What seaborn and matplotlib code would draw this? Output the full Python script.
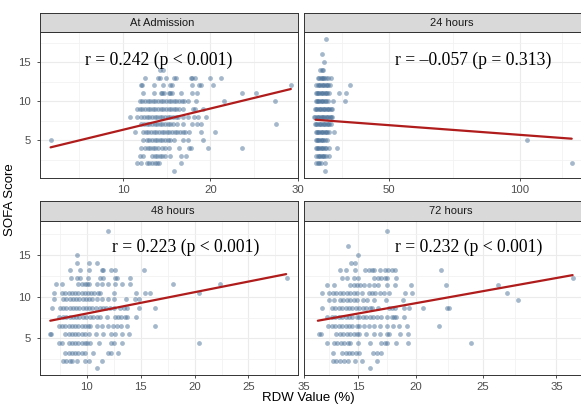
import matplotlib
matplotlib.use("Agg")
import matplotlib.pyplot as plt
import seaborn as sns
import pandas as pd

# ---------------- data ----------------
panel_titles = ["At Admission", "24 hours", "48 hours", "72 hours"]
annotations = ["r = 0.242 (p < 0.001)", "r = \u20130.057 (p = 0.313)",
               "r = 0.223 (p < 0.001)", "r = 0.232 (p < 0.001)"]

# SOFA score -> RDW values in that row
adm_rows = {
    14: [14.2, 14.6],
    13: [12.5, 14.0, 14.2, 14.9, 15.8, 16.0, 17.8, 17.9, 18.2, 19.9, 21.2],
    12: [12.0, 12.2, 13.5, 14.6, 15.4, 15.6, 17.9, 18.7, 18.9, 20.3, 29.2],
    11: [12.3, 13.5, 14.3, 14.5, 14.7, 15.2, 15.4, 15.6, 16.6, 17.9, 18.5, 23.6, 25.2],
    10: [11.9, 12.2, 12.5, 12.8, 13.1, 13.4, 13.7, 14.0, 14.3, 14.6, 14.9, 15.2, 15.5,
         15.8, 16.1, 16.4, 16.7, 17.0, 17.4, 18.3, 21.6, 27.4],
    9: [11.6, 11.9, 12.2, 12.5, 12.8, 13.1, 13.4, 13.7, 14.0, 14.3, 14.6, 14.9, 15.2,
        15.5, 15.8, 16.1, 16.4, 16.8, 18.0, 18.2, 19.1],
    8: [10.8, 11.6, 12.1, 12.4, 12.7, 13.0, 13.3, 13.6, 13.9, 14.2, 14.5, 14.8, 15.1,
        15.4, 15.7, 16.0, 16.3, 16.8, 17.4, 18.1, 18.6, 19.5],
    7: [12.1, 12.4, 12.7, 13.0, 13.3, 13.6, 13.9, 14.2, 14.5, 14.8, 15.1, 15.4, 15.7,
        16.2, 16.8, 17.9, 18.5, 18.9, 27.5],
    6: [11.4, 12.3, 12.6, 12.9, 13.2, 13.5, 13.8, 14.1, 14.4, 14.7, 15.0, 15.3, 15.6,
        15.9, 16.2, 16.5, 16.8, 17.1, 17.6, 18.9, 20.5],
    5: [1.7, 12.3, 12.7, 13.0, 13.3, 13.6, 13.9, 14.2, 14.5, 14.8, 15.1, 15.4, 15.8,
        16.8, 17.4, 19.1],
    4: [12.1, 12.5, 12.8, 13.1, 13.4, 13.7, 14.0, 14.4, 14.8, 15.2, 16.4, 17.6, 17.8,
        19.7, 23.6],
    3: [11.9, 12.3, 13.3, 13.6, 13.9, 14.2, 14.5, 14.8, 15.4, 16.6, 17.2],
    2: [11.6, 12.1, 12.7, 13.0, 13.3, 13.6, 13.9, 14.1, 16.6],
    1: [15.8],
}

h24_rows = {
    18: [26.0],
    16: [24.6],
    15: [25.2],
    14: [23.9, 24.4, 24.9],
    13: [23.0, 23.5, 24.0, 24.5, 25.0, 25.5, 26.0, 26.8, 28.1],
    12: [22.4, 22.9, 23.4, 23.9, 24.4, 24.9, 25.4, 25.9, 26.4, 26.8, 27.7, 35.1],
    11: [22.1, 22.6, 23.1, 23.6, 24.1, 24.6, 25.1, 25.6, 26.1, 26.6, 27.2, 31.0, 33.6],
    10: [22.1, 22.6, 23.1, 23.6, 24.1, 24.6, 25.1, 25.6, 26.1, 26.8, 28.8, 33.5],
    9: [21.8, 22.3, 22.8, 23.3, 23.8, 24.3, 24.8, 25.3, 25.8, 26.3, 26.8, 27.3, 27.8, 28.5],
    8: [21.5, 22.0, 22.5, 23.0, 23.5, 24.0, 24.5, 25.0, 25.5, 26.0, 26.5, 27.0, 27.5, 28.0, 28.5],
    7: [21.8, 22.3, 22.8, 23.3, 23.8, 24.3, 24.8, 25.3, 25.8, 26.3, 26.8, 27.3, 28.1],
    6: [22.1, 22.6, 23.1, 23.6, 24.1, 24.6, 25.1, 25.6, 26.1, 26.6, 27.4, 29.1],
    5: [22.1, 22.6, 23.1, 23.6, 24.1, 24.6, 25.1, 25.6, 26.5, 102.5],
    4: [22.1, 22.6, 23.1, 23.6, 24.1, 24.6, 25.1, 25.6, 26.2, 27.2, 30.4],
    3: [22.4, 22.9, 23.4, 23.9, 24.4, 24.9, 25.4, 26.2, 27.2],
    2: [22.4, 22.9, 23.4, 24.3, 25.6, 119.7],
    1: [25.6],
}

h48_rows = {
    17.9: [12.0],
    15.0: [9.1],
    14.1: [9.1, 10.2, 10.9],
    13.2: [8.4, 9.4, 10.2, 11.4, 11.5, 12.2, 12.6, 15.3],
    12.3: [8.5, 9.1, 9.4, 10.1, 11.2, 11.5, 12.6, 12.8, 14.0, 28.6],
    11.5: [7.1, 7.7, 9.2, 9.5, 9.8, 10.0, 10.2, 10.9, 11.4, 12.0, 12.6, 13.3, 14.0, 18.0, 22.4],
    10.5: [6.9, 7.7, 8.0, 8.3, 8.6, 8.9, 9.2, 9.5, 9.8, 10.1, 10.4, 10.7, 11.0, 11.2,
           12.5, 14.6, 15.4, 15.9, 20.4],
    9.7: [6.9, 7.8, 8.1, 8.4, 8.7, 9.0, 9.3, 9.6, 9.9, 10.2, 10.5, 10.9, 11.4, 12.0,
          12.5, 13.6, 14.5, 14.8],
    8.6: [6.8, 7.5, 7.8, 8.1, 8.4, 8.7, 9.0, 9.3, 9.6, 9.9, 10.2, 10.5, 10.8, 11.2,
          11.5, 11.8, 12.1, 12.5, 13.1, 13.4, 13.7, 14.8, 16.3],
    7.6: [7.4, 7.8, 8.1, 8.4, 8.7, 9.0, 9.3, 9.6, 9.9, 10.3, 10.6, 10.9, 11.2, 11.9,
          12.6, 12.9, 13.2, 13.5, 13.7, 14.6],
    6.5: [7.4, 7.7, 8.0, 8.3, 8.6, 8.9, 9.2, 9.5, 9.8, 10.1, 10.3, 10.9, 11.4, 12.0,
          12.4, 12.8, 13.2, 13.7, 16.3],
    5.5: [6.6, 6.7, 8.0, 8.3, 8.6, 8.9, 9.2, 9.5, 9.8, 10.2, 10.8, 11.5, 12.2, 12.6,
          13.3, 13.9],
    4.4: [7.4, 7.7, 8.3, 8.6, 8.9, 9.2, 9.5, 9.8, 10.0, 10.3, 11.1, 12.2, 12.5, 13.3, 20.4],
    3.3: [8.0, 8.3, 8.6, 8.9, 9.2, 9.5, 9.8, 10.6, 12.0, 12.2, 12.9],
    2.3: [7.8, 8.1, 8.4, 8.6, 9.1, 9.8, 10.2, 11.4],
    1.4: [10.9],
}

h72_rows = {
    17.9: [17.5],
    16.1: [14.1],
    15.0: [15.0],
    14.1: [14.4, 14.7],
    13.2: [13.4, 13.9, 14.7, 15.6, 15.9, 16.2, 16.4, 16.9, 17.3, 17.6, 17.9, 18.2, 22.2],
    12.3: [13.6, 14.0, 14.6, 15.0, 16.4, 16.7, 17.0, 17.3, 17.5, 18.3, 33.6],
    11.4: [12.3, 12.9, 14.3, 14.6, 14.9, 15.2, 15.5, 15.9, 16.4, 16.7, 17.5, 18.2,
           19.6, 22.6, 27.1],
    10.4: [11.9, 12.5, 12.8, 13.1, 13.4, 13.7, 14.0, 14.3, 14.6, 14.9, 15.3, 15.9,
           16.2, 16.5, 16.9, 17.2, 17.7, 19.1, 19.7, 27.9],
    9.6: [12.5, 12.9, 13.4, 13.7, 14.0, 14.3, 14.6, 14.9, 15.4, 15.8, 16.4, 17.4, 18.9, 28.9],
    8.6: [11.9, 12.7, 13.0, 13.3, 13.6, 13.9, 14.2, 14.5, 14.8, 15.1, 15.4, 15.7, 16.0,
          16.2, 16.7, 17.7, 17.9, 18.2, 19.0, 19.4, 20.6, 22.7, 22.9],
    7.6: [12.3, 12.7, 13.0, 13.3, 13.6, 13.9, 14.2, 14.5, 14.9, 15.1, 15.4, 15.7, 16.0,
          16.3, 16.6, 17.0, 17.5, 17.9, 18.1, 18.3, 19.0],
    6.5: [12.4, 12.7, 13.0, 13.3, 13.6, 13.9, 14.2, 14.5, 14.9, 15.1, 15.5, 15.9, 16.4,
          16.9, 17.5, 18.0, 18.5, 19.2, 22.0],
    5.5: [11.6, 11.8, 13.1, 13.4, 13.7, 14.0, 14.3, 14.6, 14.9, 15.1, 15.7, 16.4, 16.9,
          17.5, 17.7, 18.6, 19.3],
    4.4: [12.3, 12.9, 13.2, 13.5, 13.8, 14.1, 14.3, 15.0, 16.0, 17.0, 17.3, 17.5, 18.3,
          19.3, 24.8],
    3.3: [12.8, 13.6, 13.9, 14.2, 14.5, 14.8, 15.1, 16.3, 16.6, 17.0],
    2.3: [12.8, 13.1, 13.4, 13.8, 14.1, 14.7, 15.3, 16.6],
    1.4: [16.0],
}

# fitted regression lines (end points)
adm_fit_x, adm_fit_y = [1.7, 29.2], [4.06, 11.54]
h24_fit_x, h24_fit_y = [22.1, 119.7], [7.6, 5.17]
h48_fit_x, h48_fit_y = [6.6, 28.5], [7.12, 12.72]
h72_fit_x, h72_fit_y = [11.5, 33.6], [7.12, 12.6]

# axis ticks as printed
adm_xticks, adm_xlabels = [10, 20, 30], ["10", "20", "30"]
h24_xticks, h24_xlabels = [50, 100], ["50", "100"]
h48_xticks, h48_xlabels = [10, 15, 20, 25], ["10", "15", "20", "25"]
h72_xticks, h72_xlabels = [10.3, 15, 20, 25.8, 32.2], ["35", "15", "20", "25", "35"]
y_ticks = [5, 10, 15]

# ---------------- styling / layout ----------------
sns.set_theme(style="white")
plt.rcParams["font.family"] = ["Liberation Sans", "DejaVu Sans"]

W, H = 581, 405
fig = plt.figure(figsize=(W / 100, H / 100), dpi=100)


def rect(l, t, r, b):
    return [l / W, 1 - b / H, (r - l) / W, (b - t) / H]


point_color = "#4A7198"
line_color = "#B01C1C"
grid_col = "#EBEBEB"
frame_col = "#333333"

panels = [
    dict(rows=adm_rows, fx=adm_fit_x, fy=adm_fit_y, box=(39.5, 32, 298, 178),
         strip=(39.5, 13, 298, 32), strip_x=162, xlim=(0.43, 30.02), ylim=(0.13, 18.85),
         xt=adm_xticks, xl=adm_xlabels, minor=[5, 15, 25], ylab=True,
         ann=(159, 60)),
    dict(rows=h24_rows, fx=h24_fit_x, fy=h24_fit_y, box=(304, 32, 583, 178),
         strip=(304, 13, 583, 32), strip_x=452, xlim=(17.7, 124.0), ylim=(0.13, 18.85),
         xt=h24_xticks, xl=h24_xlabels, minor=[32.2, 74.6, 115.9], ylab=False,
         ann=(473, 60)),
    dict(rows=h48_rows, fx=h48_fit_x, fy=h48_fit_y, box=(39.5, 221, 298, 375),
         strip=(39.5, 201, 298, 221), strip_x=173, xlim=(5.6, 29.6), ylim=(0.6, 19.1),
         xt=h48_xticks, xl=h48_xlabels, minor=[7.5, 12.5, 17.5, 22.5, 27.5], ylab=True,
         ann=(186, 247)),
    dict(rows=h72_rows, fx=h72_fit_x, fy=h72_fit_y, box=(304, 221, 583, 375),
         strip=(304, 201, 583, 221), strip_x=451, xlim=(10.3, 34.5), ylim=(0.6, 19.1),
         xt=h72_xticks, xl=h72_xlabels, minor=[12.5, 17.5, 22.8, 28.6], ylab=False,
         ann=(469, 247)),
]

for p, title, ann in zip(panels, panel_titles, annotations):
    ax = fig.add_axes(rect(*p["box"]))
    xs, ys = [], []
    for sofa, vals in p["rows"].items():
        xs.extend(vals)
        ys.extend([sofa] * len(vals))
    df = pd.DataFrame({"RDW": xs, "SOFA": ys})
    sns.scatterplot(data=df, x="RDW", y="SOFA", ax=ax, color=point_color, alpha=0.5,
                    s=12, linewidth=0, zorder=3)
    fit = pd.DataFrame({"RDW": p["fx"], "SOFA": p["fy"]})
    sns.lineplot(data=fit, x="RDW", y="SOFA", ax=ax, color=line_color, linewidth=1.6,
                 zorder=4)
    ax.set_xlim(*p["xlim"])
    ax.set_ylim(*p["ylim"])
    ax.set_xticks(p["xt"])
    ax.set_xticklabels(p["xl"])
    ax.set_xticks(p["minor"], minor=True)
    ax.set_yticks(y_ticks)
    ax.set_yticks([2.5, 7.5, 12.5, 17.5], minor=True)
    ax.grid(True, which="major", color=grid_col, linewidth=0.8, zorder=0)
    ax.grid(True, which="minor", color="#F2F2F2", linewidth=0.6, zorder=0)
    ax.set_axisbelow(True)
    ax.set_xlabel("")
    ax.set_ylabel("")
    ax.set_facecolor("white")
    for sp in ax.spines.values():
        sp.set_color(frame_col)
        sp.set_linewidth(0.7)
    ax.tick_params(axis="x", which="major", length=2.4, width=0.6, color=frame_col,
                   labelsize=8.2, labelcolor="#4D4D4D", pad=2.5, bottom=True)
    ax.tick_params(axis="x", which="minor", length=0, bottom=False)
    ax.tick_params(axis="y", which="minor", length=0, left=False)
    if p["ylab"]:
        ax.tick_params(axis="y", which="major", length=2.4, width=0.6, color=frame_col,
                       labelsize=8.2, labelcolor="#4D4D4D", pad=4, left=True)
    else:
        ax.tick_params(axis="y", which="major", length=0, labelleft=False, left=False)

    # facet strip
    sax = fig.add_axes(rect(*p["strip"]))
    sax.set_facecolor("#D9D9D9")
    sax.set_xticks([])
    sax.set_yticks([])
    for sp in sax.spines.values():
        sp.set_color(frame_col)
        sp.set_linewidth(0.7)
    st = p["strip"]
    fig.text(p["strip_x"] / W, 1 - ((st[1] + st[3]) / 2) / H, title, ha="center",
             va="center", fontsize=8, color="#1A1A1A")

    # correlation annotation
    fig.text(p["ann"][0] / W, 1 - p["ann"][1] / H, ann, ha="center", va="center",
             fontsize=12.7, family=["Liberation Serif", "DejaVu Serif"], color="black")

fig.text(10 / W, 1 - 200 / H, "SOFA Score", rotation=90, ha="center", va="center",
         fontsize=9.5, color="black")
fig.text(308 / W, 1 - 398 / H, "RDW Value (%)", ha="center", va="center",
         fontsize=9.5, color="black")

fig.savefig("out.png", dpi=100)
